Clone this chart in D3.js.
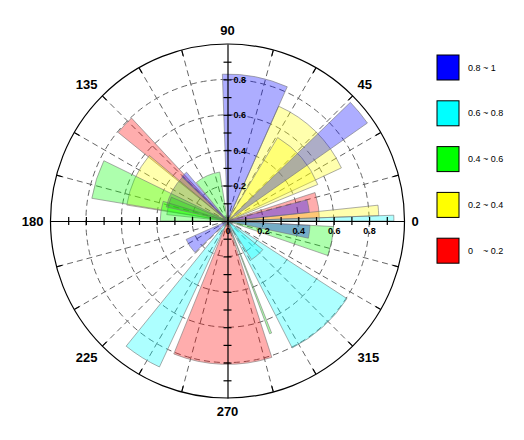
<!DOCTYPE html>
<html>
<head>
    <meta charset="utf-8">
    <style>
        body {
            margin: 0;
            background: #fff;
        }

        svg {
            font-family: 'Liberation Sans', Arial, sans-serif;
        }

        .grid {
            fill: none;
            stroke: #666;
            stroke-width: 1px;
            stroke-dasharray: 6, 4;
        }

        .wedge {
            fill-opacity: 0.32;
            stroke: #777;
            stroke-opacity: 0.6;
            stroke-width: 1px;
        }

        .axis .domain {
            stroke: #000;
            stroke-width: 1.2px;
        }

        .axis .tick line {
            stroke: #000;
            stroke-width: 1.2px;
        }

        .axis text {
            font-size: 9px;
            font-weight: bold;
            fill: #000;
        }

        .angle_label {
            font-size: 13px;
            font-weight: bold;
        }

        .legend_label {
            font-size: 9px;
            white-space: pre;
        }
    </style>
</head>

<body>
    <svg class="rose" width="524" height="440"></svg>
</body>

<script src="https://d3js.org/d3.v7.min.js"></script>

<script>
    // legend bins, top to bottom
    let binLabels = ["0.8 ~ 1", "0.6 ~ 0.8", "0.4 ~ 0.6", "0.2 ~ 0.4", "0    ~ 0.2"]
    let binColors = ["#0000ff", "#00ffff", "#00ff00", "#ffff00", "#ff0000"]

    // wedges: start / end angle in degrees (counter clockwise from east), radius, bin index
    // bin: 0 = 0.8~1, 1 = 0.6~0.8, 2 = 0.4~0.6, 3 = 0.2~0.4, 4 = 0~0.2, 5 = the darker green one
    let wedgeStart = [0, 133, 248, 2, 25, 22, 140, 341, 99, 154, 157, 163, 290.5, 135, 0, 231, 297, 302, 6, 348, 35, 66, 130, 204]
    let wedgeEnd = [18, 141, 288, 6, 66, 59, 171, 357, 129, 170.5, 174, 180, 291.5, 167, 2, 245, 327, 321, 15, 357, 44, 92, 136, 224]
    let wedgeRadius = [0.52, 0.795, 0.81, 0.855, 0.71, 0.55, 0.576, 0.60, 0.28, 0.777, 0.345, 0.38, 0.68, 0.355, 0.94, 0.91, 0.805, 0.257, 0.465, 0.467, 0.965, 0.83, 0.36, 0.256]
    let wedgeBin = [4, 4, 4, 3, 3, 3, 3, 2, 2, 2, 2, 2, 2, 5, 1, 1, 1, 1, 0, 0, 0, 0, 0, 0]

    let angleTicks = [0, 45, 90, 135, 180, 225, 270, 315]
    let radialTicks = [0.2, 0.4, 0.6, 0.8]

    let cx = 227.5
    let cy = 221
    let R = 177

    let svg = d3.select(".rose")

    let r = d3.scaleLinear()
        .domain([0, 1])
        .range([0, R])

    let color = d3.scaleOrdinal()
        .domain([0, 1, 2, 3, 4, 5])
        .range(binColors.concat(["#2e7d2e"]))

    let toRad = deg => (90 - deg) * Math.PI / 180
    let cos = deg => Math.cos(deg * Math.PI / 180)
    let sin = deg => Math.sin(deg * Math.PI / 180)

    let plot = svg.append("g")
        .attr("transform", `translate(${cx}, ${cy})`)

    // dashed grid
    plot.append("g")
        .selectAll("circle")
        .data(radialTicks)
        .join("circle")
        .attr("class", "grid")
        .attr("r", d => r(d))

    let spokes = d3.range(0, 360, 15).filter(d => d % 90 != 0)

    plot.append("g")
        .selectAll("line")
        .data(spokes)
        .join("line")
        .attr("class", "grid")
        .attr("x1", 0)
        .attr("y1", 0)
        .attr("x2", d => r(1) * cos(d))
        .attr("y2", d => -r(1) * sin(d))

    // wedges, drawn in data order
    let wedges = wedgeStart.map((s, i) => ({
        start: s, end: wedgeEnd[i], radius: wedgeRadius[i], bin: wedgeBin[i]
    }))

    let arc = d3.arc()
        .innerRadius(0)
        .outerRadius(d => r(d.radius))
        .startAngle(d => toRad(d.start))
        .endAngle(d => toRad(d.end))

    plot.append("g")
        .selectAll("path")
        .data(wedges)
        .join("path")
        .attr("class", "wedge")
        .attr("d", arc)
        .style("fill", d => color(d.bin))

    // outer ring with ticks
    plot.append("circle")
        .attr("r", r(1))
        .style("fill", "none")
        .style("stroke", "#000")
        .style("stroke-width", "1.2px")

    plot.append("g")
        .selectAll("line")
        .data(spokes)
        .join("line")
        .attr("x1", d => r(1) * cos(d))
        .attr("y1", d => -r(1) * sin(d))
        .attr("x2", d => (r(1) - 6) * cos(d))
        .attr("y2", d => -(r(1) - 6) * sin(d))
        .style("stroke", "#000")
        .style("stroke-width", "1.2px")

    // cartesian axes through the centre
    let axisScaleX = d3.scaleLinear().domain([-1, 1]).range([-R, R])
    let axisScaleY = d3.scaleLinear().domain([-1, 1]).range([R, -R])
    let axisTicks = d3.range(-9, 10).map(d => d / 10)

    let xAxis = plot.append("g")
        .attr("class", "axis")
        .call(d3.axisBottom(axisScaleX)
            .tickValues(axisTicks)
            .tickSize(4)
            .tickSizeOuter(0)
            .tickPadding(3)
            .tickFormat(d => (d >= 0 && d < 0.9 && Math.round(d * 10) % 2 == 0) ? d3.format("~g")(d) : ""))

    xAxis.selectAll(".tick line").attr("y1", -4)

    let yAxis = plot.append("g")
        .attr("class", "axis")
        .call(d3.axisRight(axisScaleY)
            .tickValues(axisTicks)
            .tickSize(4)
            .tickSizeOuter(0)
            .tickPadding(2)
            .tickFormat(d => (d > 0 && d < 0.9 && Math.round(d * 10) % 2 == 0) ? d3.format("~g")(d) : ""))

    yAxis.selectAll(".tick line").attr("x1", -4)

    // angle labels, anchored on the side facing the ring
    plot.append("g")
        .selectAll("text")
        .data(angleTicks)
        .join("text")
        .attr("class", "angle_label")
        .attr("x", d => (r(1) + 7) * cos(d))
        .attr("y", d => -(r(1) + 9) * sin(d))
        .attr("text-anchor", d => cos(d) > 0.1 ? "start" : (cos(d) < -0.1 ? "end" : "middle"))
        .attr("dy", d => sin(d) > 0.1 ? "0em" : (sin(d) < -0.1 ? "0.72em" : "0.36em"))
        .text(d => d)

    // legend
    let legend = svg.append("g")
        .selectAll("g")
        .data(binLabels)
        .join("g")
        .attr("transform", (d, i) => `translate(437, ${55 + i * 45.8})`)

    legend.append("rect")
        .attr("width", 22)
        .attr("height", 25)
        .style("fill", (d, i) => binColors[i])
        .style("stroke", "#000")
        .style("stroke-width", "1px")

    legend.append("text")
        .attr("class", "legend_label")
        .attr("x", 31)
        .attr("y", 12.5)
        .attr("dy", "0.35em")
        .text(d => d)
</script>
</html>
